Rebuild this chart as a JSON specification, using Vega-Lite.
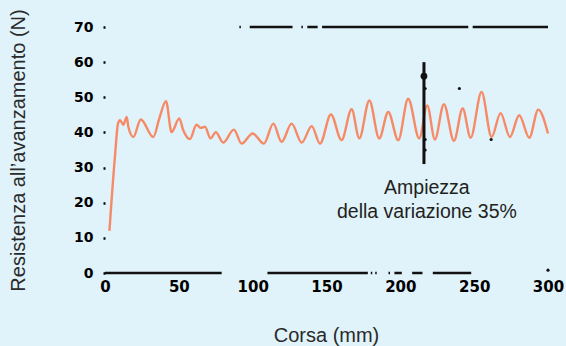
{
  "$schema": "https://vega.github.io/schema/vega-lite/v6.json",
  "width": 443,
  "height": 246,
  "autosize": {"type": "none"},
  "padding": {"left": 105, "top": 27, "right": 18, "bottom": 73},
  "background": "#e0f2fa",
  "config": {
    "view": {"stroke": null},
    "font": "Liberation Sans"
  },
  "datasets": {
    "curve": [
      {"x": 3, "y": 12}, {"x": 6.8, "y": 33.5}, {"x": 8.8, "y": 42.5}, {"x": 10.2, "y": 43.5},
      {"x": 12.4, "y": 42.2}, {"x": 14.7, "y": 44.4}, {"x": 15.8, "y": 41.6}, {"x": 19.2, "y": 38.7},
      {"x": 24.2, "y": 43.7}, {"x": 32.7, "y": 38.7}, {"x": 36.8, "y": 44}, {"x": 41.3, "y": 48.9},
      {"x": 45.1, "y": 40.1}, {"x": 50.3, "y": 44}, {"x": 53, "y": 40.6}, {"x": 57.5, "y": 38.1},
      {"x": 62, "y": 42.2}, {"x": 64.7, "y": 41.3}, {"x": 67.7, "y": 41.6}, {"x": 71.5, "y": 38.3},
      {"x": 75, "y": 40.1}, {"x": 80, "y": 37.1}, {"x": 87.3, "y": 40.8}, {"x": 92.5, "y": 36.8},
      {"x": 100, "y": 39.7}, {"x": 107.6, "y": 36.8}, {"x": 114, "y": 42.5}, {"x": 119.6, "y": 37.3},
      {"x": 126.4, "y": 42.5}, {"x": 133.2, "y": 37.1}, {"x": 140, "y": 41.8}, {"x": 145.6, "y": 36.8},
      {"x": 153, "y": 45.1}, {"x": 160.2, "y": 37.8}, {"x": 167, "y": 46.6}, {"x": 172.2, "y": 38.3},
      {"x": 179, "y": 49.1}, {"x": 185.7, "y": 38.3}, {"x": 191.8, "y": 45.8}, {"x": 198.6, "y": 37.8},
      {"x": 205.3, "y": 49.6}, {"x": 212.8, "y": 38.3}, {"x": 218.2, "y": 47.7}, {"x": 223.4, "y": 38},
      {"x": 229.5, "y": 48}, {"x": 236.3, "y": 37.6}, {"x": 242.2, "y": 46.8}, {"x": 247.6, "y": 38.5},
      {"x": 255, "y": 51.5}, {"x": 261.8, "y": 38.7}, {"x": 267.9, "y": 45.5}, {"x": 274.2, "y": 38.7},
      {"x": 280.5, "y": 44.9}, {"x": 287.3, "y": 38.5}, {"x": 293.4, "y": 46.5}, {"x": 300, "y": 39.7}
    ],
    "hsegs": [
      {"x": 0, "x2": 79, "y": 0}, {"x": 110, "x2": 178, "y": 0}, {"x": 180, "x2": 181, "y": 0},
      {"x": 183, "x2": 184, "y": 0}, {"x": 192, "x2": 193, "y": 0}, {"x": 196, "x2": 201, "y": 0},
      {"x": 208, "x2": 215, "y": 0}, {"x": 222, "x2": 248, "y": 0},
      {"x": 91, "x2": 92, "y": 70}, {"x": 98, "x2": 127, "y": 70}, {"x": 133, "x2": 134, "y": 70},
      {"x": 137, "x2": 144, "y": 70}, {"x": 147, "x2": 246, "y": 70}, {"x": 249, "x2": 300, "y": 70}
    ],
    "vsegs": [
      {"x": 216, "y": 31, "y2": 60}
    ],
    "bigdots": [
      {"x": 216, "y": 56}
    ],
    "dots": [
      {"x": 216.8, "y": 52.5}, {"x": 240, "y": 52.5},
      {"x": 216.8, "y": 38}, {"x": 216.8, "y": 35}, {"x": 261.5, "y": 38},
      {"x": 300, "y": 0.8}
    ],
    "labels": [
      {"x": 218, "y": 24.1, "text": "Ampiezza"},
      {"x": 218, "y": 17.3, "text": "della variazione 35%"}
    ]
  },
  "encoding": {
    "x": {
      "field": "x", "type": "quantitative",
      "scale": {"domain": [0, 300], "nice": false},
      "axis": {
        "title": "Corsa (mm)", "values": [0, 50, 100, 150, 200, 250, 300],
        "domain": false, "grid": false, "ticks": false, "labelFlush": false,
        "labelFontSize": 15, "labelColor": "#000000", "labelPadding": 6,
        "labelFont": "DejaVu Sans", "labelFontWeight": "bold",
        "titleFontSize": 20, "titleFontWeight": "normal", "titleColor": "#2a2a2a",
        "titleX": 221, "titleY": 62, "titleBaseline": "middle", "titleAlign": "center"
      }
    },
    "y": {
      "field": "y", "type": "quantitative",
      "scale": {"domain": [0, 70], "nice": false},
      "axis": {
        "title": "Resistenza all\u2019avanzamento (N)", "values": [0, 10, 20, 30, 40, 50, 60, 70],
        "domain": false, "grid": false, "labelFlush": false,
        "ticks": true, "tickSize": 2, "tickWidth": 2.5, "tickColor": "#000000",
        "labelFontSize": 14, "labelColor": "#000000", "labelPadding": 10,
        "labelFont": "DejaVu Sans", "labelFontWeight": "bold",
        "titleFontSize": 20, "titleFontWeight": "normal", "titleColor": "#2a2a2a",
        "titleX": -87, "titleY": 123, "titleAngle": -90, "titleBaseline": "middle", "titleAlign": "center"
      }
    }
  },
  "layer": [
    {
      "data": {"name": "curve"},
      "mark": {"type": "line", "interpolate": "monotone", "color": "#f68a66", "strokeWidth": 2.4}
    },
    {
      "data": {"name": "hsegs"},
      "mark": {"type": "rule", "color": "#111111", "strokeWidth": 2.5},
      "encoding": {"x2": {"field": "x2"}}
    },
    {
      "data": {"name": "vsegs"},
      "mark": {"type": "rule", "color": "#111111", "strokeWidth": 3},
      "encoding": {"y2": {"field": "y2"}}
    },
    {
      "data": {"name": "bigdots"},
      "mark": {"type": "circle", "color": "#111111", "opacity": 1, "size": 45}
    },
    {
      "data": {"name": "dots"},
      "mark": {"type": "circle", "color": "#111111", "opacity": 1, "size": 10}
    },
    {
      "data": {"name": "labels"},
      "mark": {"type": "text", "fontSize": 19.5, "color": "#231f20", "align": "center", "baseline": "middle", "font": "Liberation Sans"},
      "encoding": {"text": {"field": "text", "type": "nominal"}}
    }
  ]
}
